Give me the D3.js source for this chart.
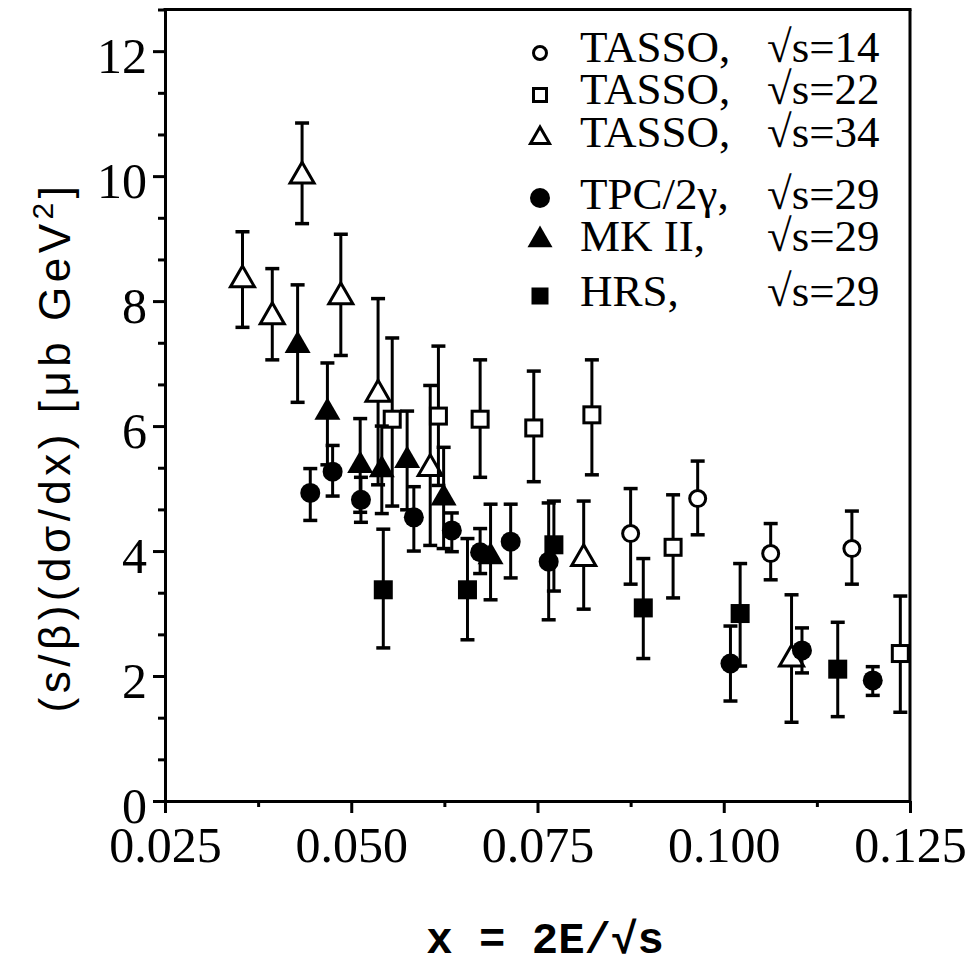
<!DOCTYPE html>
<html>
<head>
<meta charset="utf-8">
<title>s/beta dsigma/dx</title>
<script src="https://d3js.org/d3.v7.min.js"></script>
<style>
  body { margin: 0; background: #fff; }
  svg { display: block; }
  .tick text { font-family: "Liberation Serif", "Times New Roman", serif; font-size: 50px; fill: #000; }
  .leg { font-family: "Liberation Serif", "Times New Roman", serif; font-size: 45px; }
</style>
</head>
<body>
<div id="chart"></div>
<script>
// each point: [x, value, lower end of error bar, upper end]
const tasso14 = [[0.0875, 4.28, 3.47, 5.00], [0.0965, 4.84, 4.26, 5.44], [0.1063, 3.96, 3.54, 4.44], [0.1172, 4.04, 3.47, 4.64]];
const tasso22 = [[0.0555, 6.11, 4.72, 7.41], [0.0617, 6.16, 5.05, 7.28], [0.0673, 6.11, 5.18, 7.06], [0.0745, 5.97, 5.11, 6.88],
                 [0.0823, 6.18, 5.22, 7.06], [0.0932, 4.06, 3.25, 4.90], [0.1237, 2.36, 1.42, 3.28]];
const tasso34 = [[0.0354, 8.34, 7.58, 9.11], [0.0394, 7.75, 7.06, 8.52], [0.0434, 10.0, 9.24, 10.85], [0.0486, 8.07, 7.13, 9.07],
                 [0.0536, 6.51, 5.06, 8.04], [0.0606, 5.32, 4.09, 6.65], [0.0812, 3.88, 3.07, 4.80], [0.1091, 2.27, 1.26, 3.30]];
const tpc = [[0.0445, 4.93, 4.49, 5.32], [0.0475, 5.27, 4.88, 5.69], [0.0513, 4.82, 4.46, 5.18], [0.0584, 4.54, 4.00, 5.03],
             [0.0635, 4.33, 3.99, 4.61], [0.0673, 3.98, 3.64, 4.36], [0.0714, 4.15, 3.57, 4.75], [0.0765, 3.83, 2.90, 4.77],
             [0.1009, 2.20, 1.60, 2.80], [0.1105, 2.41, 2.05, 2.77], [0.1200, 1.93, 1.69, 2.15]];
const mk2 = [[0.0428, 7.29, 6.38, 8.26], [0.0468, 6.22, 5.38, 7.01], [0.0512, 5.37, 4.62, 6.12], [0.0541, 5.30, 4.60, 6.00],
             [0.0575, 5.45, 4.66, 6.24], [0.0624, 4.85, 4.04, 5.66], [0.0687, 3.91, 3.22, 4.75]];
const hrs = [[0.0543, 3.38, 2.45, 4.35], [0.0656, 3.38, 2.58, 4.20], [0.0772, 4.10, 3.36, 4.80], [0.0892, 3.09, 2.28, 3.88],
             [0.1022, 3.00, 2.16, 3.80], [0.1153, 2.11, 1.35, 2.86]];

const legendNames = ["TASSO,", "TASSO,", "TASSO,", "TPC/2\u03b3,", "MK II,", "HRS,"];
const legendEnergy = ["\u221as=14", "\u221as=22", "\u221as=34", "\u221as=29", "\u221as=29", "\u221as=29"];
const xTicks = [0.025, 0.050, 0.075, 0.100, 0.125];
const yTicks = [0, 2, 4, 6, 8, 10, 12];

const width = 970, height = 967;
const x = d3.scaleLinear().domain([0.025, 0.125]).range([165, 910]);
const y = d3.scaleLinear().domain([0, 38 / 3]).range([801, 9.5]);

const svg = d3.select("#chart").append("svg")
  .attr("width", width)
  .attr("height", height);

// axes
const yMinor = d3.range(0, 12.7, 2 / 3).filter(v => Math.abs(v / 2 - Math.round(v / 2)) > 0.01);
svg.append("g").attr("transform", "translate(165,0)")
  .call(d3.axisLeft(y).tickValues(yMinor).tickSize(7).tickFormat(""))
  .call(g => g.select(".domain").remove());
const yAxis = svg.append("g").attr("transform", "translate(165,0)")
  .call(d3.axisLeft(y).tickValues(yTicks).tickSizeInner(12).tickSizeOuter(0).tickPadding(6));
yAxis.selectAll("text").attr("dy", "0.42em");

const xMinor = d3.range(0.0375, 0.125, 0.025);
svg.append("g").attr("transform", "translate(0,801)")
  .call(d3.axisBottom(x).tickValues(xMinor).tickSize(6).tickFormat(""))
  .call(g => g.select(".domain").remove());
const xAxis = svg.append("g").attr("transform", "translate(0,801)")
  .call(d3.axisBottom(x).tickValues(xTicks).tickSizeInner(12).tickSizeOuter(0).tickPadding(13).tickFormat(d3.format(".3f")));

svg.selectAll(".domain, .tick line").attr("stroke", "#000").attr("stroke-width", 3);

// top and right border
svg.append("line")
  .attr("x1", x(0.025) - 1.5).attr("x2", x(0.125) + 1.5)
  .attr("y1", y(38 / 3)).attr("y2", y(38 / 3))
  .attr("stroke", "#000").attr("stroke-width", 3);
svg.append("line")
  .attr("x1", x(0.125)).attr("x2", x(0.125))
  .attr("y1", y(38 / 3)).attr("y2", y(0))
  .attr("stroke", "#000").attr("stroke-width", 3);

// axis titles
svg.append("text")
  .attr("transform", "translate(70,447) rotate(-90)")
  .attr("text-anchor", "middle")
  .style("font-family", "'Liberation Sans', Arial, sans-serif")
  .style("font-size", "44px")
  .style("letter-spacing", "4.5px")
  .html('(s/\u03b2)(d\u03c3/dx) [\u03bcb GeV<tspan dy="-17" font-size="30">2</tspan><tspan dy="17">]</tspan>');

svg.append("text")
  .attr("x", 545).attr("y", 953)
  .attr("text-anchor", "middle")
  .style("font-family", "'Liberation Mono', 'Courier New', monospace")
  .style("font-size", "44px")
  .style("font-weight", "bold")
  .text("x = 2E/\u221as");

// marks
const plot = svg.append("g");

function marker(g, shape, filled, cx, cy, s) {
  const fill = filled ? "#000" : "#fff";
  const sw = filled ? 0 : 3;
  if (shape === "circle") {
    g.append("circle").attr("cx", cx).attr("cy", cy).attr("r", filled ? s / 2 : s / 2 - 1.5)
      .attr("fill", fill).attr("stroke", "#000").attr("stroke-width", sw);
  } else if (shape === "square") {
    const a = filled ? s : s - 3;
    g.append("rect").attr("x", cx - a / 2).attr("y", cy - a / 2).attr("width", a).attr("height", a)
      .attr("fill", fill).attr("stroke", "#000").attr("stroke-width", sw);
  } else {
    const area = Math.sqrt(3) / 4 * s * s;
    g.append("path").attr("d", d3.symbol(d3.symbolTriangle, area)())
      .attr("transform", `translate(${cx},${cy})`)
      .attr("fill", fill).attr("stroke", "#000").attr("stroke-width", sw).attr("stroke-linejoin", "miter");
  }
}

function drawSeries(data, shape, filled, size) {
  const g = plot.append("g");
  data.forEach(d => {
    const px = x(d[0]);
    g.append("line").attr("x1", px).attr("x2", px).attr("y1", y(d[2])).attr("y2", y(d[3]))
      .attr("stroke", "#000").attr("stroke-width", 3);
    [d[2], d[3]].forEach(v => {
      g.append("line").attr("x1", px - 7).attr("x2", px + 7).attr("y1", y(v)).attr("y2", y(v))
        .attr("stroke", "#000").attr("stroke-width", 3.5);
    });
    marker(g, shape, filled, px, y(d[1]), size);
  });
}

drawSeries(tasso34, "triangle", false, 24);
drawSeries(tasso22, "square", false, 19);
drawSeries(tasso14, "circle", false, 19);
drawSeries(hrs, "square", true, 19);
drawSeries(mk2, "triangle", true, 26);
drawSeries(tpc, "circle", true, 20);

// legend
const legendShapes = [["circle", false, 16], ["square", false, 16], ["triangle", false, 19],
                      ["circle", true, 20], ["triangle", true, 25], ["square", true, 17]];
const symbolY = [53, 95, 138, 198, 240, 296];
const textY = [62, 104, 147, 209, 251, 306];
const legend = svg.append("g");
legendShapes.forEach((s, i) => {
  marker(legend, s[0], s[1], 540, symbolY[i], s[2]);
  legend.append("text").attr("class", "leg").attr("x", 580).attr("y", textY[i])
    .attr("textLength", legendNames[i].length > 5 ? null : null)
    .text(legendNames[i]);
  legend.append("text").attr("class", "leg").attr("x", 767).attr("y", textY[i])
    .text(legendEnergy[i]);
});
</script>
</body>
</html>
